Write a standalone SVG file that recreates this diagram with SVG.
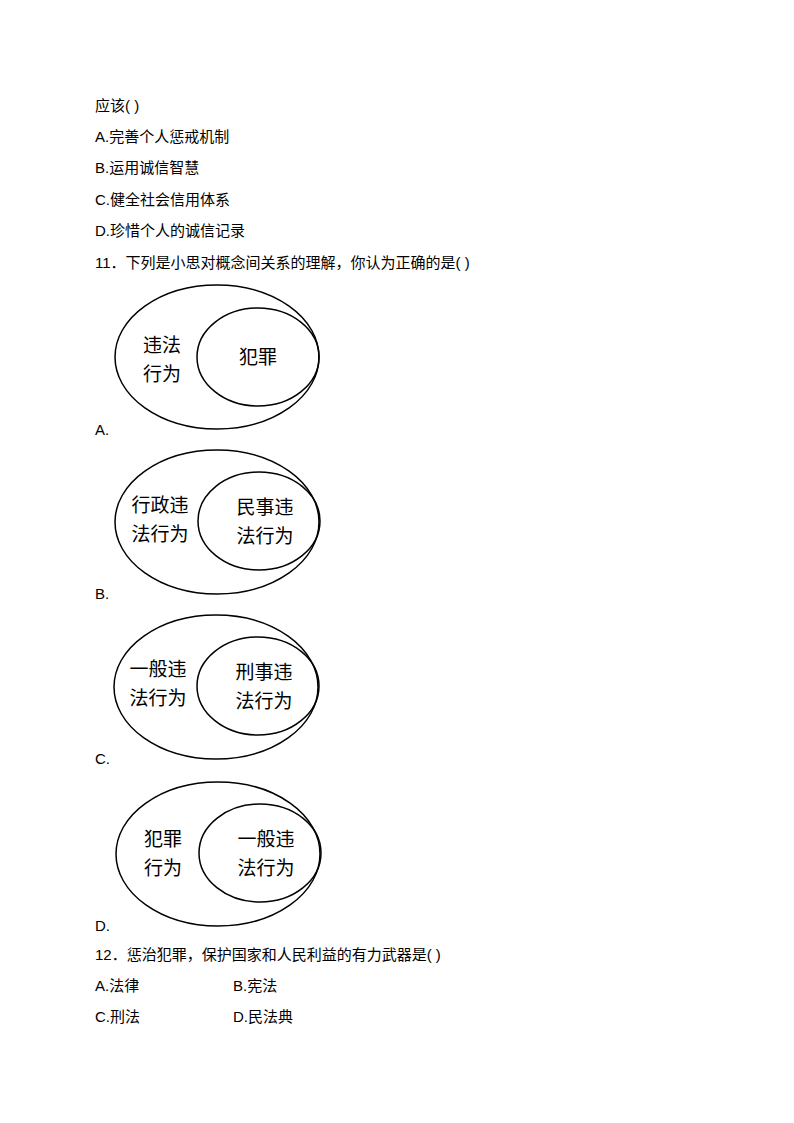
<svg xmlns="http://www.w3.org/2000/svg" width="794" height="1123" viewBox="0 0 794 1123">
<style>
.t{font-family:"Liberation Sans","Noto Sans CJK SC",sans-serif;font-size:15px;fill:#000}
.d{font-family:"Noto Sans CJK SC",sans-serif;font-size:19px;fill:#000;text-anchor:middle}
ellipse{fill:none;stroke:#000;stroke-width:1.5}
</style>
<rect width="794" height="1123" fill="#fff"/>
<text class="t" x="95" y="111">应该( )</text>
<text class="t" x="95" y="142">A.完善个人惩戒机制</text>
<text class="t" x="95" y="173">B.运用诚信智慧</text>
<text class="t" x="95" y="205">C.健全社会信用体系</text>
<text class="t" x="95" y="236">D.珍惜个人的诚信记录</text>
<text class="t" x="95" y="268">11．下列是小思对概念间关系的理解，你认为正确的是( )</text>
<g id="A">
<ellipse cx="217" cy="357" rx="102" ry="72"/><ellipse cx="258" cy="357" rx="61" ry="49"/>
<text class="d" x="162" y="352">违法</text><text class="d" x="162" y="381">行为</text>
<text class="d" x="258" y="364">犯罪</text>
<text class="t" x="95" y="435">A.</text></g>
<g id="B">
<ellipse cx="217" cy="522" rx="102" ry="72"/><ellipse cx="259" cy="521" rx="61" ry="49"/>
<text class="d" x="160" y="512">行政违</text><text class="d" x="160" y="541">法行为</text>
<text class="d" x="265" y="514">民事违</text><text class="d" x="265" y="543">法行为</text>
<text class="t" x="95" y="599">B.</text></g>
<g id="C">
<ellipse cx="216" cy="687" rx="102" ry="72"/><ellipse cx="258" cy="686" rx="61" ry="49"/>
<text class="d" x="158" y="676">一般违</text><text class="d" x="158" y="705">法行为</text>
<text class="d" x="264" y="679">刑事违</text><text class="d" x="264" y="708">法行为</text>
<text class="t" x="95" y="764">C.</text></g>
<g id="D">
<ellipse cx="218" cy="854" rx="102" ry="72"/><ellipse cx="260" cy="853" rx="61" ry="49"/>
<text class="d" x="163" y="846">犯罪</text><text class="d" x="163" y="875">行为</text>
<text class="d" x="266" y="846">一般违</text><text class="d" x="266" y="875">法行为</text>
<text class="t" x="95" y="931">D.</text></g>
<text class="t" x="95" y="960">12．惩治犯罪，保护国家和人民利益的有力武器是( )</text>
<text class="t" x="95" y="991">A.法律</text><text class="t" x="233" y="991">B.宪法</text>
<text class="t" x="95" y="1022">C.刑法</text><text class="t" x="233" y="1022">D.民法典</text>
</svg>
